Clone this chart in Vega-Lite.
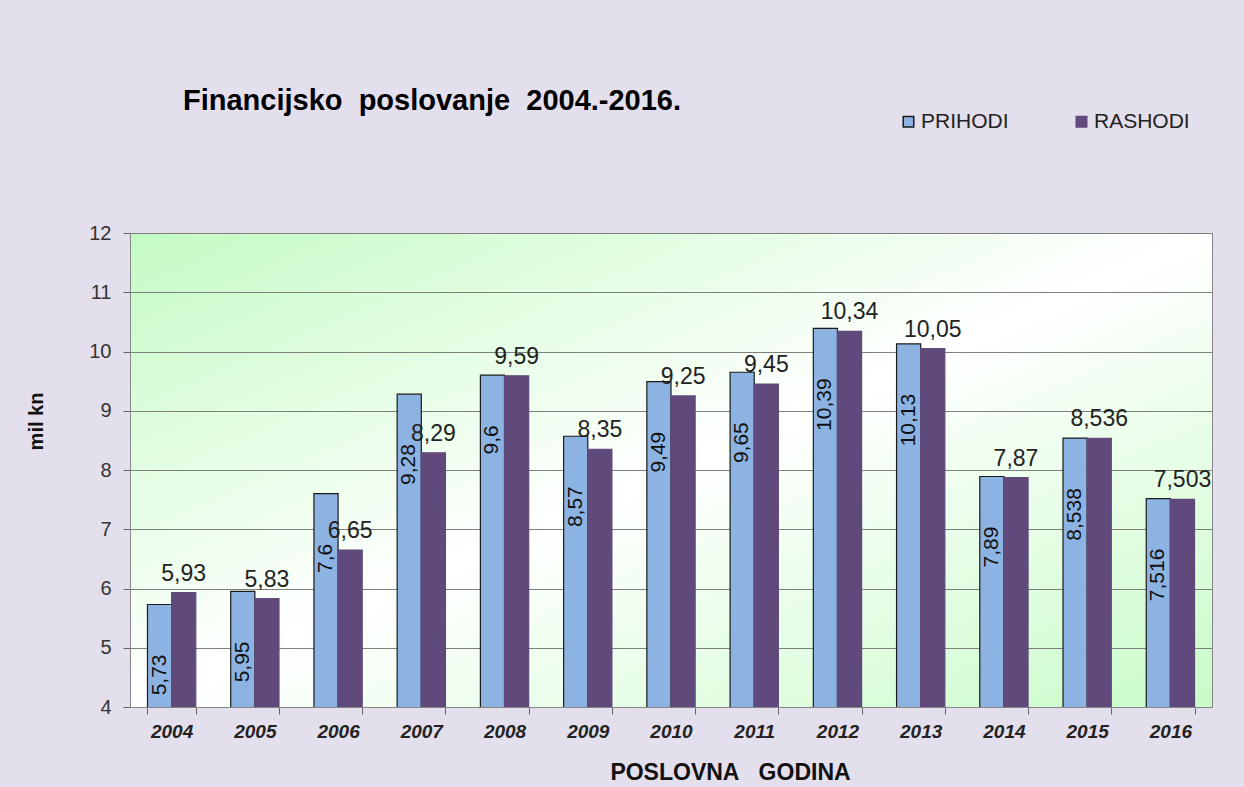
{
  "$schema": "https://vega.github.io/schema/vega-lite/v6.json",
  "width": 1082,
  "height": 474,
  "autosize": {"type": "none"},
  "padding": {"left": 130, "top": 233, "right": 32, "bottom": 80},
  "background": "#E4DFEC",
  "config": {
    "locale": {"number": {"decimal": ",", "thousands": ".", "grouping": [3], "currency": ["", ""]}},
    "font": "Liberation Sans",
    "view": {
      "stroke": "#868686",
      "strokeWidth": 1,
      "fill": {
        "gradient": "linear", "x1": 0, "y1": 0, "x2": 1, "y2": 1,
        "stops": [
          {"offset": 0, "color": "#C4FBC4"},
          {"offset": 0.5, "color": "#FFFFFF"},
          {"offset": 1, "color": "#C8FCC8"}
        ]
      }
    }
  },
  "title": {
    "text": "Financijsko\u00a0 poslovanje\u00a0 2004.-2016.",
    "anchor": "start",
    "frame": "group",
    "dx": 53,
    "offset": 0,
    "dy": 34,
    "baseline": "bottom",
    "fontSize": 29,
    "fontWeight": "bold",
    "color": "#000000",
    "font": "Liberation Sans"
  },
  "data": {
    "values": [
      {"year": "2004", "series": "PRIHODI", "value": 5.73},
      {"year": "2005", "series": "PRIHODI", "value": 5.95},
      {"year": "2006", "series": "PRIHODI", "value": 7.6},
      {"year": "2007", "series": "PRIHODI", "value": 9.28},
      {"year": "2008", "series": "PRIHODI", "value": 9.6},
      {"year": "2009", "series": "PRIHODI", "value": 8.57},
      {"year": "2010", "series": "PRIHODI", "value": 9.49},
      {"year": "2011", "series": "PRIHODI", "value": 9.65},
      {"year": "2012", "series": "PRIHODI", "value": 10.39},
      {"year": "2013", "series": "PRIHODI", "value": 10.13},
      {"year": "2014", "series": "PRIHODI", "value": 7.89},
      {"year": "2015", "series": "PRIHODI", "value": 8.538},
      {"year": "2016", "series": "PRIHODI", "value": 7.516},
      {"year": "2004", "series": "RASHODI", "value": 5.93},
      {"year": "2005", "series": "RASHODI", "value": 5.83},
      {"year": "2006", "series": "RASHODI", "value": 6.65},
      {"year": "2007", "series": "RASHODI", "value": 8.29},
      {"year": "2008", "series": "RASHODI", "value": 9.59},
      {"year": "2009", "series": "RASHODI", "value": 8.35},
      {"year": "2010", "series": "RASHODI", "value": 9.25},
      {"year": "2011", "series": "RASHODI", "value": 9.45},
      {"year": "2012", "series": "RASHODI", "value": 10.34},
      {"year": "2013", "series": "RASHODI", "value": 10.05},
      {"year": "2014", "series": "RASHODI", "value": 7.87},
      {"year": "2015", "series": "RASHODI", "value": 8.536},
      {"year": "2016", "series": "RASHODI", "value": 7.503}
    ]
  },
  "encoding": {
    "x": {
      "field": "year",
      "type": "nominal",
      "scale": {"paddingInner": 0.42, "paddingOuter": 0.21},
      "axis": {
        "title": "POSLOVNA\u00a0\u00a0\u00a0GODINA",
        "labelAngle": 0,
        "labelFont": "Liberation Sans",
        "labelFontSize": 19,
        "labelFontWeight": "bold",
        "labelFontStyle": "italic",
        "labelColor": "#222222",
        "labelPadding": 8,
        "tickBand": "extent",
        "tickSize": 7,
        "tickColor": "#666666",
        "domainColor": "#868686",
        "titleFont": "Liberation Sans",
        "titleFontSize": 23,
        "titleFontWeight": "bold",
        "titleColor": "#111111",
        "titlePadding": 20,
        "titleX": 600
      }
    },
    "xOffset": {"field": "series", "type": "nominal", "scale": {"domain": ["PRIHODI", "RASHODI"]}},
    "y": {
      "field": "value",
      "type": "quantitative",
      "scale": {"domain": [4, 12], "zero": false, "nice": false},
      "axis": {
        "title": "mil kn",
        "values": [4, 5, 6, 7, 8, 9, 10, 11, 12],
        "grid": true,
        "gridColor": "#7F7F7F",
        "gridOpacity": 1,
        "labelFont": "Liberation Sans",
        "labelFontSize": 20,
        "labelColor": "#333333",
        "tickSize": 7,
        "tickColor": "#666666",
        "domainColor": "#868686",
        "labelPadding": 12,
        "titleFont": "Liberation Sans",
        "titleFontSize": 20,
        "titleFontWeight": "bold",
        "titleColor": "#111111",
        "titlePadding": 42,
        "titleY": 188
      }
    }
  },
  "layer": [
    {
      "mark": {"type": "bar", "strokeWidth": 1.2, "clip": true},
      "encoding": {
        "fill": {
          "field": "series",
          "type": "nominal",
          "scale": {"domain": ["PRIHODI", "RASHODI"], "range": ["#8DB3E2", "#604A7B"]},
          "legend": {
            "title": null,
            "orient": "none",
            "legendX": 768,
            "legendY": -122,
            "direction": "horizontal",
            "symbolType": "square",
            "symbolSize": 110,
            "symbolStrokeWidth": 1.5,
            "labelFont": "Liberation Sans",
            "labelFontSize": 21,
            "labelColor": "#222222",
            "labelOffset": 2,
            "columnPadding": 62
          }
        },
        "stroke": {
          "field": "series",
          "type": "nominal",
          "scale": {"domain": ["PRIHODI", "RASHODI"], "range": ["#1A1A1A", "#604A7B"]},
          "legend": {
            "title": null,
            "orient": "none",
            "legendX": 768,
            "legendY": -122,
            "direction": "horizontal",
            "symbolType": "square",
            "symbolSize": 110,
            "symbolStrokeWidth": 1.5,
            "labelFont": "Liberation Sans",
            "labelFontSize": 21,
            "labelColor": "#222222",
            "labelOffset": 2,
            "columnPadding": 62
          }
        }
      }
    },
    {
      "transform": [{"filter": "datum.series === 'RASHODI'"}],
      "mark": {"type": "text", "baseline": "bottom", "dy": -7, "fontSize": 23, "color": "#222222", "font": "Liberation Sans"},
      "encoding": {"text": {"field": "value", "type": "quantitative", "format": "~g"}}
    },
    {
      "transform": [{"filter": "datum.series === 'PRIHODI'"}],
      "mark": {"type": "text", "angle": 270, "align": "right", "baseline": "middle", "yOffset": 50, "fontSize": 21, "color": "#111111", "font": "Liberation Sans"},
      "encoding": {"text": {"field": "value", "type": "quantitative", "format": "~g"}}
    }
  ]
}
